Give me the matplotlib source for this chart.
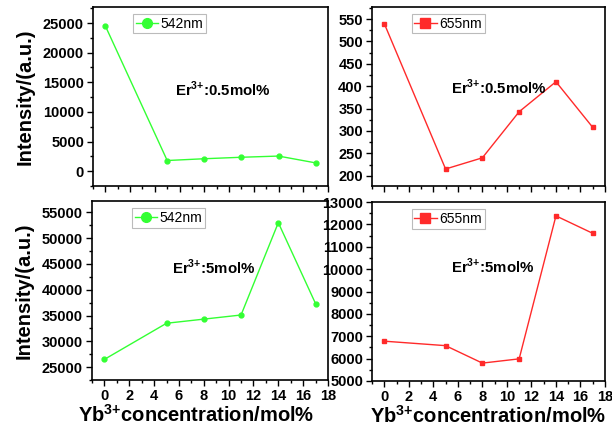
import matplotlib
matplotlib.use('Agg')
import matplotlib.pyplot as plt
from matplotlib.ticker import MultipleLocator

plt.rcParams['font.family'] = ['Liberation Sans', 'DejaVu Sans']
plt.rcParams['mathtext.fontset'] = 'custom'
plt.rcParams['mathtext.rm'] = 'Liberation Sans:bold'
plt.rcParams['mathtext.bf'] = 'Liberation Sans:bold'

yb_conc = [0, 5, 8, 11, 14, 17]
green_low = [24500, 1800, 2100, 2350, 2550, 1400]
red_low = [540, 215, 240, 343, 410, 308]
green_high = [26500, 33500, 34300, 35100, 53000, 37300]
red_high = [6780, 6580, 5800, 5990, 12380, 11600]

GREEN = '#33ff33'
RED = '#ff2a2a'

fig = plt.figure(figsize=(6.12, 4.30), dpi=100)
W, H = 612, 430


def make_ax(left, top, right, bottom):
    return fig.add_axes([left / W, 1 - bottom / H, (right - left) / W, (bottom - top) / H])


ax_tl = make_ax(93, 7, 328, 186)
ax_tr = make_ax(372, 7, 605, 186)
ax_bl = make_ax(92, 201, 328, 380)
ax_br = make_ax(372, 202, 605, 381)

panels = [
    (ax_tl, green_low, GREEN, 'o', '542nm', 'Er$^{3{+}}$:0.5mol%', (-2500, 27700), 5000, (0.35, 0.54)),
    (ax_tr, red_low, RED, 's', '655nm', 'Er$^{3{+}}$:0.5mol%', (177, 577), 50, (0.34, 0.55)),
    (ax_bl, green_high, GREEN, 'o', '542nm', 'Er$^{3{+}}$:5mol%', (22500, 57200), 5000, (0.34, 0.63)),
    (ax_br, red_high, RED, 's', '655nm', 'Er$^{3{+}}$:5mol%', (5000, 13000), 1000, (0.34, 0.64)),
]

for ax, vals, color, mk, lab, note, ylim, ystep, pos in panels:
    ax.plot(yb_conc, vals, color=color, lw=1.0, marker=mk, ms=3.5, label=lab)
    ax.set_xlim(-1, 18)
    ax.set_ylim(*ylim)
    ax.xaxis.set_major_locator(MultipleLocator(2))
    ax.xaxis.set_minor_locator(MultipleLocator(1))
    ax.yaxis.set_major_locator(MultipleLocator(ystep))
    ax.yaxis.set_minor_locator(MultipleLocator(ystep / 2))
    ax.tick_params(which='major', direction='out', length=4, width=1, labelsize=10.5, pad=2.5)
    ax.tick_params(which='minor', direction='out', length=2, width=1)
    for lbl in ax.get_xticklabels() + ax.get_yticklabels():
        lbl.set_fontweight('bold')
    for sp in ax.spines.values():
        sp.set_linewidth(1.2)
    ax.text(pos[0], pos[1], note, transform=ax.transAxes, fontsize=10.8,
            fontweight='bold', va='center', ha='left')
    leg = ax.legend(loc='upper left', bbox_to_anchor=(0.14, 1.0), fontsize=10,
                    markerscale=2, handlelength=1.6, borderpad=0.2,
                    handletextpad=0.2, fancybox=False, framealpha=1)
    leg.get_frame().set_edgecolor('#bbbbbb')
    leg.get_frame().set_linewidth(0.8)

for ax in (ax_tl, ax_tr):
    ax.tick_params(labelbottom=False)

for ax in (ax_tl, ax_bl):
    ax.set_ylabel('Intensity/(a.u.)', fontsize=14.5, fontweight='bold', labelpad=6)
for ax in (ax_bl, ax_br):
    ax.set_xlabel('Yb$^{3{+}}$concentration/mol%', fontsize=14.5, fontweight='bold')
ax_bl.xaxis.set_label_coords(0.44, -0.135)
ax_br.xaxis.set_label_coords(0.5, -0.135)

fig.savefig('out.png', dpi=100)
